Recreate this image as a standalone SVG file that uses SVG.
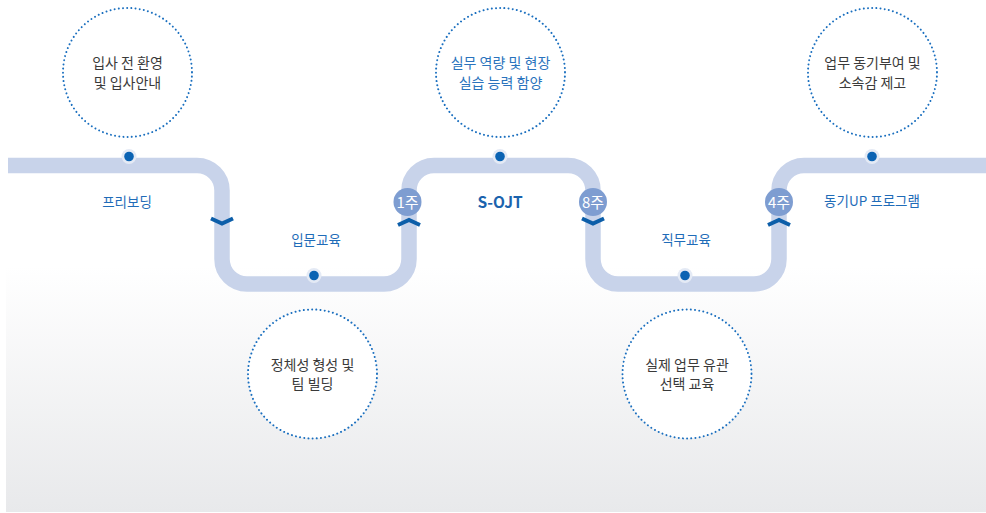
<svg xmlns="http://www.w3.org/2000/svg" width="986" height="513" viewBox="0 0 986 513">
<defs>
<linearGradient id="bg" x1="0" y1="0" x2="0" y2="1">
<stop offset="0" stop-color="#ffffff"/>
<stop offset="0.52" stop-color="#ffffff"/>
<stop offset="1" stop-color="#e8e9eb"/>
</linearGradient>
<style>
text{font-family:"Noto Sans CJK KR","Noto Sans",sans-serif;text-anchor:middle}
.bubble{fill:#ffffff;stroke:#1a6fbf;stroke-width:2;stroke-dasharray:0.01 4.2;stroke-linecap:round}
.btxt{font-size:14px;fill:#3a3a3a}
.btxt-blue{font-size:14px;fill:#2a73bd}
.lbl{font-size:13.5px;fill:#1f6cb8}
.lbl-bold{font-size:15.5px;font-weight:bold;fill:#1b63ad}
.ring{fill:#e4eaf5}
.dot{fill:#0b63b3}
.chev{fill:none;stroke:#0c5ea9;stroke-width:4;stroke-linejoin:miter}
.badge{fill:#7e9dd1}
.btext{font-size:15px;fill:#ffffff}
</style>
</defs>
<rect x="6" y="0" width="980" height="512" fill="url(#bg)"/>
<g id="connectors">
<path d="M8 165.5 H197 A25 25 0 0 1 222 190.5 V259 A25 25 0 0 0 247 284 H384 A25 25 0 0 0 409 259 V190.5 A25 25 0 0 1 434 165.5 H568 A25 25 0 0 1 593 190.5 V259 A25 25 0 0 0 618 284 H754 A25 25 0 0 0 779 259 V190.5 A25 25 0 0 1 804 165.5 H986" fill="none" stroke="#c8d3ea" stroke-width="15.5"/>
<path class="chev" d="M211 218.5 L222 223.5 L233 218.5"/>
<path class="chev" d="M398 225 L409 220 L420 225"/>
<path class="chev" d="M582 218.5 L593 223.5 L604 218.5"/>
<path class="chev" d="M768 225 L779 220 L790 225"/>
</g>
<g id="node-preboarding">
<circle class="bubble" cx="127.5" cy="72.5" r="64.5"/>
<text class="btxt" x="127.5" y="68">입사 전 환영</text>
<text class="btxt" x="127.5" y="88">및 입사안내</text>
<circle class="ring" cx="129" cy="156.5" r="7.5"/>
<circle class="dot" cx="129" cy="156.5" r="4.8"/>
<text class="lbl" x="127" y="207">프리보딩</text>
</g>
<g id="node-intro">
<circle class="bubble" cx="312.5" cy="374" r="64.5"/>
<text class="btxt" x="312.5" y="370">정체성 형성 및</text>
<text class="btxt" x="312.5" y="389">팀 빌딩</text>
<circle class="ring" cx="314" cy="275.5" r="7.5"/>
<circle class="dot" cx="314" cy="275.5" r="4.8"/>
<text class="lbl" x="316" y="245">입문교육</text>
</g>
<g id="node-sojt">
<circle class="bubble" cx="500.5" cy="72.5" r="64.5"/>
<text class="btxt-blue" x="500.5" y="68">실무 역량 및 현장</text>
<text class="btxt-blue" x="500.5" y="88">실습 능력 함양</text>
<circle class="ring" cx="500" cy="156.5" r="7.5"/>
<circle class="dot" cx="500" cy="156.5" r="4.8"/>
<text class="lbl-bold" x="500" y="208">S-OJT</text>
</g>
<g id="node-job">
<circle class="bubble" cx="687" cy="374" r="64.5"/>
<text class="btxt" x="687" y="370">실제 업무 유관</text>
<text class="btxt" x="687" y="389">선택 교육</text>
<circle class="ring" cx="685" cy="275.5" r="7.5"/>
<circle class="dot" cx="685" cy="275.5" r="4.8"/>
<text class="lbl" x="686" y="244.5">직무교육</text>
</g>
<g id="node-up">
<circle class="bubble" cx="872.5" cy="72.5" r="64.5"/>
<text class="btxt" x="872.5" y="68">업무 동기부여 및</text>
<text class="btxt" x="872.5" y="88">소속감 제고</text>
<circle class="ring" cx="872" cy="156.5" r="7.5"/>
<circle class="dot" cx="872" cy="156.5" r="4.8"/>
<text class="lbl" x="872" y="206">동기UP 프로그램</text>
</g>
<g id="badge-1">
<circle class="badge" cx="407.5" cy="202" r="14"/>
<text class="btext" x="407.5" y="207.5">1주</text>
</g>
<g id="badge-8">
<circle class="badge" cx="593" cy="202" r="14"/>
<text class="btext" x="593" y="207.5">8주</text>
</g>
<g id="badge-4">
<circle class="badge" cx="779" cy="202" r="14"/>
<text class="btext" x="779" y="207.5">4주</text>
</g>
</svg>
